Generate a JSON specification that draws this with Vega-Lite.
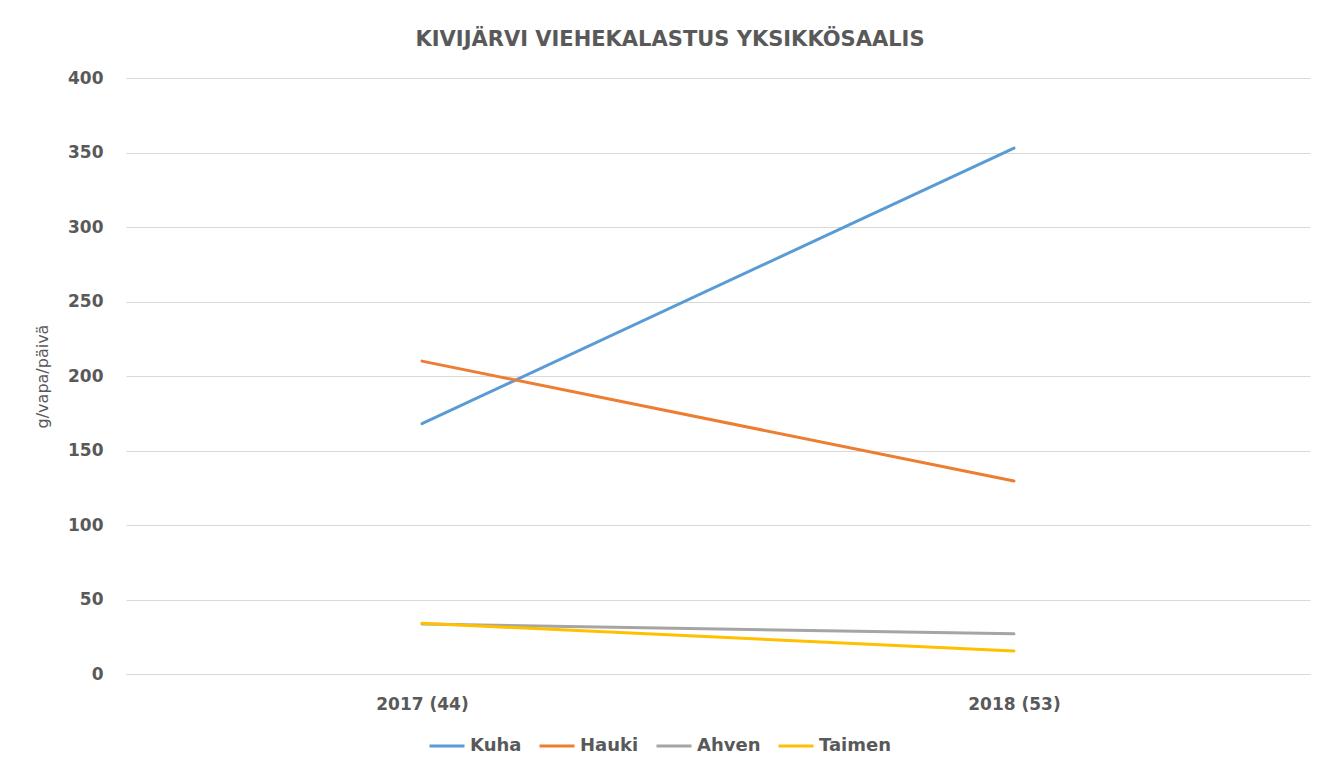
{
  "$schema": "https://vega.github.io/schema/vega-lite/v6.json",
  "autosize": "none",
  "width": 1184,
  "height": 596,
  "padding": {"left": 126, "top": 78, "right": 26, "bottom": 91},
  "background": "white",
  "title": {
    "text": "KIVIJÄRVI VIEHEKALASTUS YKSIKKÖSAALIS",
    "anchor": "middle",
    "dx": -48,
    "offset": 19,
    "font": "DejaVu Sans",
    "fontSize": 21,
    "fontWeight": "bold",
    "color": "#595959"
  },
  "data": {
    "values": [
      {"vuosi": "2017 (44)", "laji": "Kuha", "arvo": 168},
      {"vuosi": "2018 (53)", "laji": "Kuha", "arvo": 353},
      {"vuosi": "2017 (44)", "laji": "Hauki", "arvo": 210},
      {"vuosi": "2018 (53)", "laji": "Hauki", "arvo": 129.5},
      {"vuosi": "2017 (44)", "laji": "Ahven", "arvo": 33.5},
      {"vuosi": "2018 (53)", "laji": "Ahven", "arvo": 27},
      {"vuosi": "2017 (44)", "laji": "Taimen", "arvo": 34},
      {"vuosi": "2018 (53)", "laji": "Taimen", "arvo": 15.5}
    ]
  },
  "mark": {"type": "line", "strokeWidth": 3, "strokeCap": "round"},
  "encoding": {
    "x": {
      "field": "vuosi",
      "type": "nominal",
      "scale": {"type": "point", "padding": 0.5},
      "axis": {
        "title": null,
        "labelAngle": 0,
        "ticks": false,
        "domain": true,
        "domainColor": "#d9d9d9",
        "labelFont": "DejaVu Sans",
        "labelFontSize": 17,
        "labelFontWeight": "bold",
        "labelColor": "#595959",
        "labelPadding": 22,
        "grid": false
      }
    },
    "y": {
      "field": "arvo",
      "type": "quantitative",
      "scale": {"domain": [0, 400]},
      "axis": {
        "title": "g/vapa/päivä",
        "titleFont": "DejaVu Sans",
        "titleFontSize": 16,
        "titleFontWeight": "normal",
        "titleColor": "#595959",
        "titlePadding": 17,
        "values": [0, 50, 100, 150, 200, 250, 300, 350, 400],
        "ticks": false,
        "domain": false,
        "gridColor": "#d9d9d9",
        "labelFont": "DejaVu Sans",
        "labelFontSize": 17,
        "labelFontWeight": "bold",
        "labelColor": "#595959",
        "labelPadding": 23
      }
    },
    "color": {
      "field": "laji",
      "type": "nominal",
      "sort": ["Kuha", "Hauki", "Ahven", "Taimen"],
      "scale": {
        "domain": ["Kuha", "Hauki", "Ahven", "Taimen"],
        "range": ["#5B9BD5", "#ED7D31", "#A5A5A5", "#FFC000"]
      },
      "legend": {
        "title": null,
        "orient": "none",
        "direction": "horizontal",
        "legendX": 302,
        "legendY": 649,
        "symbolType": "stroke",
        "symbolSize": 1225,
        "symbolStrokeWidth": 3,
        "labelFont": "DejaVu Sans",
        "labelFontSize": 18,
        "labelFontWeight": "bold",
        "labelColor": "#595959",
        "labelOffset": 4,
        "columnPadding": 11
      }
    }
  },
  "config": {"view": {"stroke": null}}
}
